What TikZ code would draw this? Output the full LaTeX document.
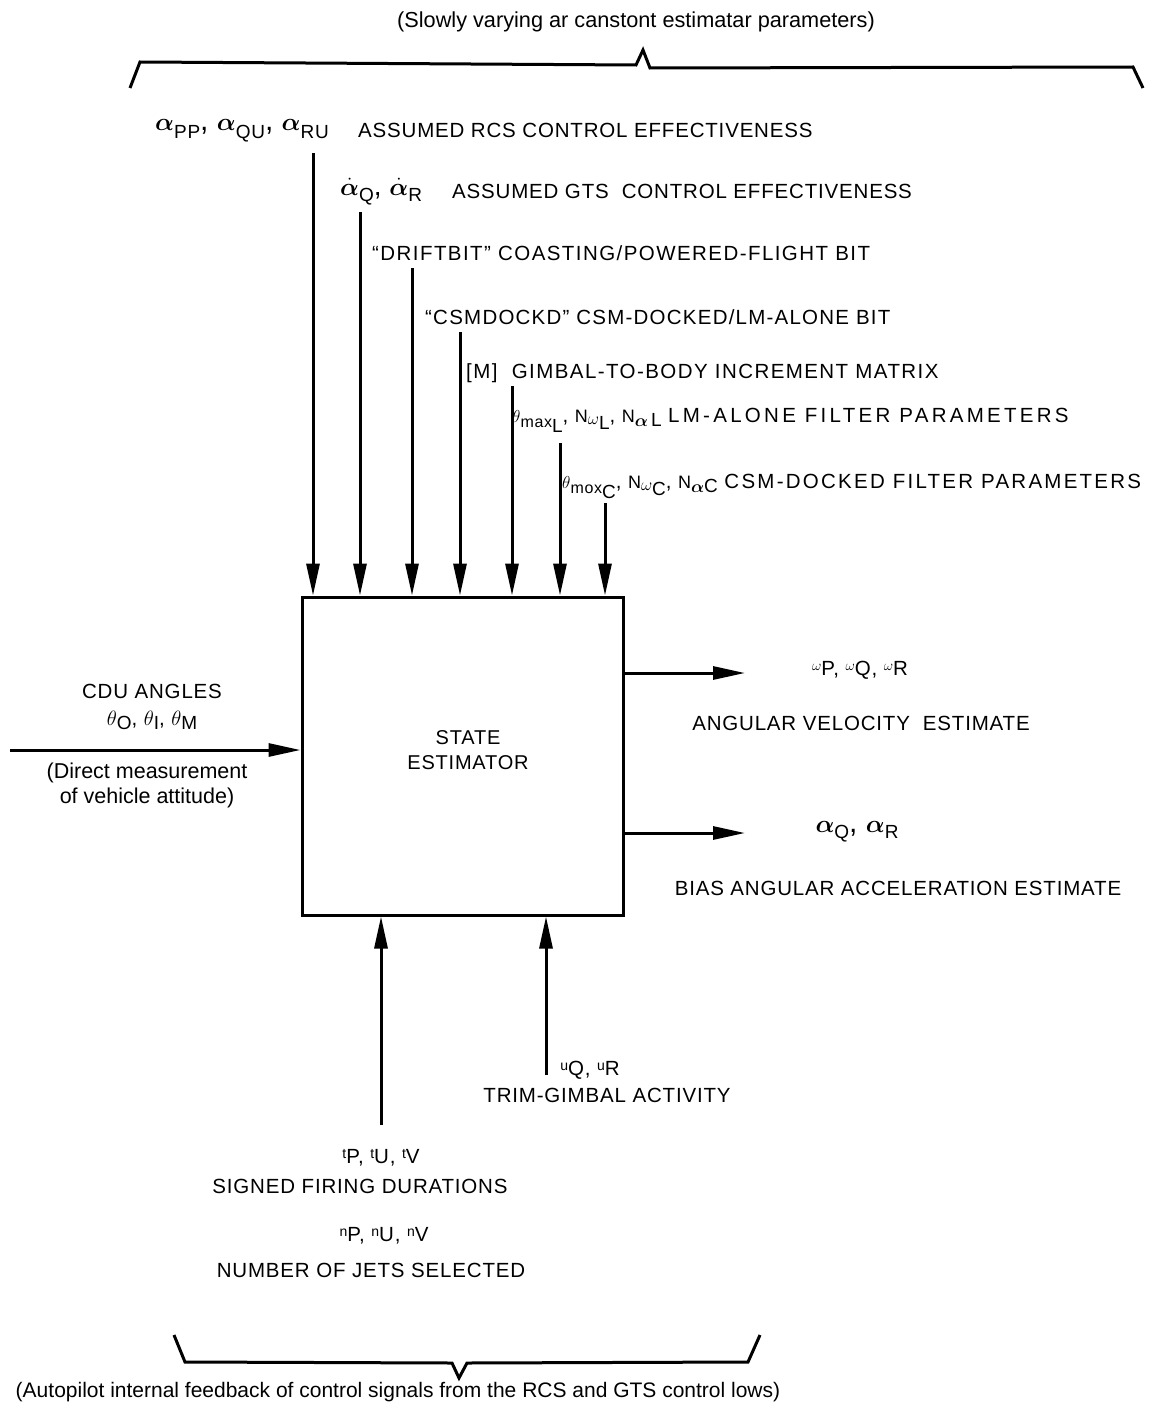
\documentclass[tikz,border=0pt]{standalone}
\usepackage{fontspec}
\usepackage{amsmath}
\setmainfont{Liberation Sans}[LetterSpace=4]
\newfontfamily\plainf{Liberation Sans}
\usetikzlibrary{arrows.meta}
\newcommand\dn[2][6pt]{\raisebox{-#1}{\fontsize{19}{19}\selectfont #2}}
\newcommand\upp[2][6pt]{\raisebox{#1}{\fontsize{14}{14}\selectfont #2}}
\newcommand\midsz[2][6pt]{\raisebox{#1}{\fontsize{18}{18}\selectfont #2}}
\newcommand\lsp[1]{\addfontfeature{LetterSpace=#1}}
\begin{document}
\begin{tikzpicture}[x=1pt,y=-1pt,
  lbl/.style={font=\fontsize{20.5}{24}\selectfont, inner sep=0pt},
  plbl/.style={font=\plainf\fontsize{21}{25}\selectfont, inner sep=0pt, align=center},
  arr/.style={line width=3pt, -{Triangle[length=32pt,width=13pt]}},
  brace/.style={line width=3pt, line join=miter}]
\useasboundingbox (0,0) rectangle (1158,1402);
% box
\node[draw, line width=3pt, minimum width=321pt, minimum height=318pt, inner sep=0pt] (box) at (462.5,756) {};
\node[lbl, align=center, font=\fontsize{20}{25}\selectfont] (bt) at (468,750) {STATE\\ESTIMATOR};

% top brace and text
\node[plbl, font=\plainf\fontsize{21.7}{25}\selectfont] (toptxt) at (636,22) {(Slowly varying ar canstont estimatar parameters)};
\draw[brace] (130,88) -- (140,62) -- (636,65) -- (643,50) -- (650,68) -- (1133,67) -- (1143,88);

% top input labels
\node[lbl, anchor=base west] (l1a) at (155,131) {\fontsize{30}{30}\selectfont$\boldsymbol{\alpha}$\dn[8pt]{PP},\;$\boldsymbol{\alpha}$\dn[8pt]{QU},\;$\boldsymbol{\alpha}$\dn[8pt]{RU}};
\node[lbl, anchor=base west] (l1b) at (358,138) {ASSUMED RCS CONTROL EFFECTIVENESS};
\node[lbl, anchor=base west] (l2a) at (340,195) {\fontsize{28}{28}\selectfont$\dot{\boldsymbol{\alpha}}$\dn[6pt]{Q},\;$\dot{\boldsymbol{\alpha}}$\dn[6pt]{R}};
\node[lbl, anchor=base west] (l2b) at (452,198) {ASSUMED GTS\ \ CONTROL EFFECTIVENESS};
\node[lbl, anchor=base west] (l3) at (372,260) {\lsp{7}“DRIFTBIT” COASTING/POWERED-FLIGHT BIT};
\node[lbl, anchor=base west] (l4) at (425,324) {\lsp{6}“CSMDOCKD” CSM-DOCKED/LM-ALONE BIT};
\node[lbl, anchor=base west] (l5) at (466,378) {\lsp{7}[M]\ \ GIMBAL-TO-BODY INCREMENT MATRIX};
\node[lbl, anchor=base west] (l6) at (512,422) {\midsz[0pt]{$\theta$}\dn[5pt]{\fontsize{16}{16}\selectfont max\dn[5pt]{L}}, \midsz[0pt]{N}\dn[2pt]{\midsz[0pt]{$\omega$}\dn[5pt]{L}}, \midsz[0pt]{N}\dn[4pt]{$\boldsymbol{\alpha}$\,L} {\lsp{16}LM-ALONE FILTER PARAMETERS}};
\node[lbl, anchor=base west] (l7) at (562,488) {\midsz[0pt]{$\theta$}\dn[5pt]{\fontsize{16}{16}\selectfont mox\dn[5pt]{C}}, \midsz[0pt]{N}\dn[2pt]{\midsz[0pt]{$\omega$}\dn[5pt]{C}}, \midsz[0pt]{N}\dn[4pt]{$\boldsymbol{\alpha}$C}~{\lsp{11}CSM-DOCKED FILTER PARAMETERS}};

% top arrows
\coordinate (s1) at (313,153);
\coordinate (s2) at (360,212);
\coordinate (s3) at (412,268);
\coordinate (s4) at (460,332);
\coordinate (s5) at (512,386);
\coordinate (s6) at (560,443);
\coordinate (s7) at (605,503);
\foreach \s in {s1,s2,s3,s4,s5,s6,s7}
  \draw[arr] (\s) -- (\s |- box.north);

% left input
\coordinate (cin) at (10,750);
\draw[arr] (cin) -- (cin -| box.west);
\node[lbl] (cdu) at (152,691) {CDU ANGLES};
\node[lbl] (cdut) at (152,720) {{\fontsize{20}{20}\selectfont$\theta$}\dn[4pt]{O}, {\fontsize{20}{20}\selectfont$\theta$}\dn[4pt]{I}, {\fontsize{20}{20}\selectfont$\theta$}\dn[4pt]{M}};
\node[plbl, font=\plainf\fontsize{21.5}{25}\selectfont] (dm) at (147,785) {(Direct measurement\\of vehicle attitude)};

% right outputs
\coordinate (o1) at (745,673);
\coordinate (o2) at (745,833);
\draw[arr] (o1 -| box.east) -- (o1);
\draw[arr] (o2 -| box.east) -- (o2);
\node[lbl] (w) at (860,670) {\upp[5pt]{$\omega$}P, \upp[5pt]{$\omega$}Q, \upp[5pt]{$\omega$}R};
\node[lbl] (av) at (861,723) {ANGULAR VELOCITY\ \ ESTIMATE};
\node[lbl] (aqr) at (857,832) {\fontsize{30}{30}\selectfont$\boldsymbol{\alpha}$\dn[6pt]{Q},\;$\boldsymbol{\alpha}$\dn[6pt]{R}};
\node[lbl] (baa) at (898,888) {BIAS ANGULAR ACCELERATION ESTIMATE};

% bottom inputs
\coordinate (b1) at (381,1125);
\coordinate (b2) at (546,1075);
\draw[arr] (b1) -- (b1 |- box.south);
\draw[arr] (b2) -- (b2 |- box.south);
\node[lbl] (uqr) at (590,1070) {\upp[5pt]{u}Q, \upp[5pt]{u}R};
\node[lbl] (tga) at (607,1095) {TRIM-GIMBAL ACTIVITY};
\node[lbl] (tpuv) at (381,1158) {\upp[5pt]{t}P, \upp[5pt]{t}U, \upp[5pt]{t}V};
\node[lbl] (sfd) at (360,1186) {SIGNED FIRING DURATIONS};
\node[lbl] (npuv) at (384,1236) {\upp[5pt]{n}P, \upp[5pt]{n}U, \upp[5pt]{n}V};
\node[lbl] (njs) at (371,1270) {NUMBER OF JETS SELECTED};

% bottom brace and text
\draw[brace] (174,1335) -- (185,1362) -- (452,1363) -- (459,1378) -- (467,1363) -- (748,1362) -- (760,1335);
\node[plbl] (bottxt) at (398,1392) {(Autopilot internal feedback of control signals from the RCS and GTS control lows)};
\end{tikzpicture}
\end{document}
